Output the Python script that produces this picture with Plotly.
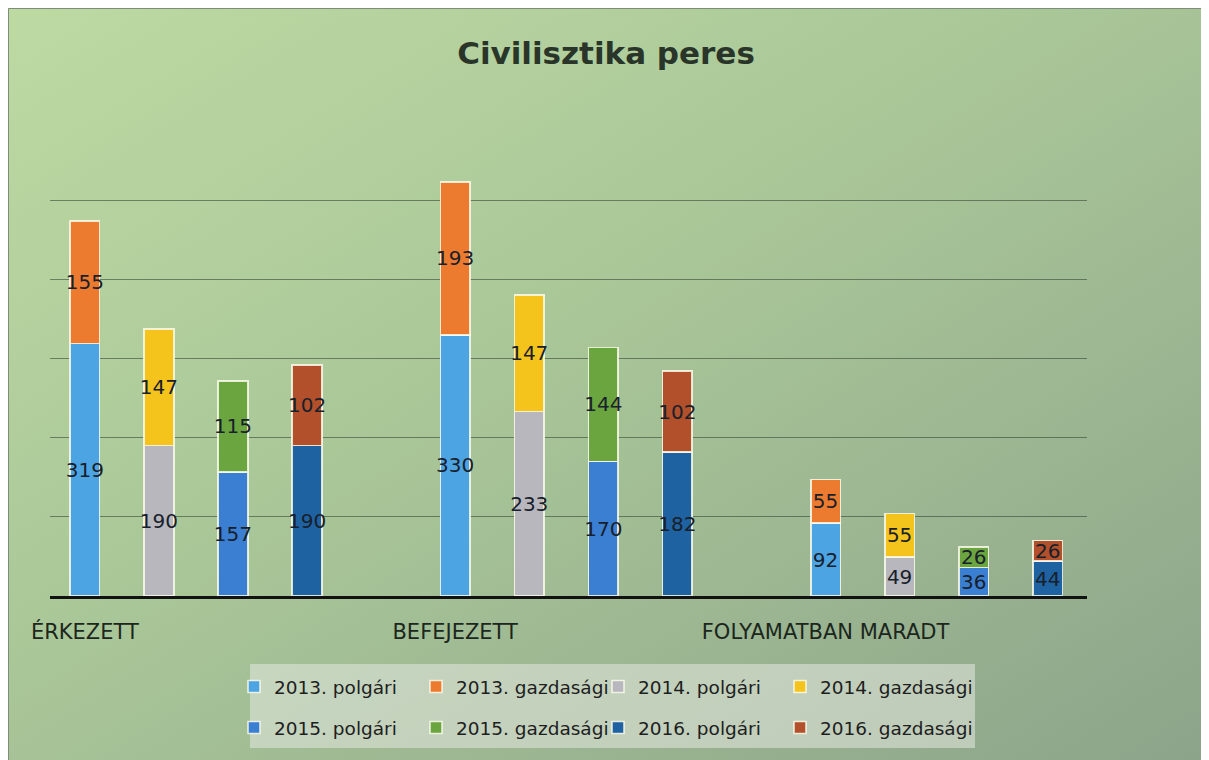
import base64
import plotly.graph_objects as go

# ---------------- data ----------------
categories = ["ÉRKEZETT", "BEFEJEZETT", "FOLYAMATBAN MARADT"]
years = ["2013", "2014", "2015", "2016"]

polgari_2013 = [319, 330, 92]
gazdasagi_2013 = [155, 193, 55]
polgari_2014 = [190, 233, 49]
gazdasagi_2014 = [147, 147, 55]
polgari_2015 = [157, 170, 36]
gazdasagi_2015 = [115, 144, 26]
polgari_2016 = [190, 182, 44]
gazdasagi_2016 = [102, 102, 26]

polgari = [polgari_2013, polgari_2014, polgari_2015, polgari_2016]
gazdasagi = [gazdasagi_2013, gazdasagi_2014, gazdasagi_2015, gazdasagi_2016]

polgari_colors = ["#4da4e3", "#b7b7bd", "#3b7fd2", "#1f62a1"]
gazdasagi_colors = ["#ed7b2f", "#f4c41c", "#6ba540", "#b1502a"]

FONT = "DejaVu Sans"
LABEL_COLOR = "#18202b"

# ---------------- layout geometry (figure px; page adds 8px body margin) ----------------
W, H = 1201, 752
L, R, T, B = 42, 122, 121, 164
PW, PH = W - L - R, H - T - B

slot = len(years) + 1  # one empty slot between category groups


def xpos(g, k):
    return g * slot + k


fig = go.Figure()

for k, yr in enumerate(years):
    xs = [xpos(g, k) for g in range(len(categories))]
    leg = "legend" if k < 2 else "legend2"
    last_in_row = (k % 2 == 1)
    for vals, col, kind in ((polgari[k], polgari_colors[k], "polgári"),
                            (gazdasagi[k], gazdasagi_colors[k], "gazdasági")):
        lw = 160 if (last_in_row and kind == "gazdasági") else 137
        fig.add_trace(go.Bar(
            x=xs, y=vals, width=0.4,
            name=f"{yr}. {kind}",
            legend=leg, legendwidth=lw,
            marker=dict(color=col, line=dict(color="rgba(250,250,235,0.85)", width=1.6)),
            text=[str(v) for v in vals],
            textposition="inside", insidetextanchor="middle",
            textangle=0, constraintext="none",
            textfont=dict(family=FONT, size=20, color=LABEL_COLOR),
            cliponaxis=False,
            hoverinfo="skip",
        ))

# background (gradient scan look) as svg image
svg = f'''<svg xmlns="http://www.w3.org/2000/svg" width="{W}" height="{H}" viewBox="0 0 {W} {H}" preserveAspectRatio="none">
<defs><linearGradient id="g" x1="0" y1="0" x2="1" y2="1">
<stop offset="0" stop-color="#bddaa3"/><stop offset="0.45" stop-color="#a9c698"/><stop offset="1" stop-color="#8ca48a"/>
</linearGradient></defs>
<rect width="{W}" height="{H}" fill="url(#g)"/>
<path d="M0.5,{H} V0.5 H{W}" fill="none" stroke="#7f8c7a" stroke-width="1"/>
</svg>'''
src = "data:image/svg+xml;base64," + base64.b64encode(svg.encode()).decode()


def px_x(v):
    return (v - L) / PW


def px_y(v):
    return (H - B - v) / PH


legend_common = dict(orientation="h", x=px_x(226), xanchor="left", yanchor="middle",
                     entrywidth=137, bgcolor="rgba(0,0,0,0)", borderwidth=0,
                     font=dict(family=FONT, size=18.5, color="#1e1e1e"), traceorder="normal")

fig.update_layout(
    width=W, height=H,
    margin=dict(l=L, r=R, t=T, b=B, pad=0),
    paper_bgcolor="#ffffff",
    plot_bgcolor="rgba(0,0,0,0)",
    barmode="stack",
    uniformtext=dict(minsize=20, mode="show"),
    font=dict(family=FONT, color="#1e1e1e"),
    title=dict(text="Civilisztika peres", x=598 / W, xanchor="center", xref="container",
               y=1 - 45 / H, yanchor="middle", yref="container",
               font=dict(family=FONT, size=31, color="#2a352a", weight="bold")),
    images=[dict(source=src, xref="paper", yref="paper",
                 x=-L / PW, y=1 + T / PH, sizex=W / PW, sizey=H / PH,
                 xanchor="left", yanchor="top", sizing="stretch", layer="below")],
    shapes=[dict(type="rect", xref="paper", yref="paper",
                 x0=px_x(242), x1=px_x(967), y0=px_y(740), y1=px_y(656),
                 fillcolor="rgba(228,232,224,0.55)", line=dict(width=0), layer="above")],
    legend=dict(y=px_y(679), **legend_common),
    legend2=dict(y=px_y(720), **legend_common),
    xaxis=dict(range=[-0.47, 13.53], tickmode="array",
               tickvals=[xpos(g, 0) for g in range(len(categories))],
               ticktext=categories, ticks="", showgrid=False, zeroline=False,
               showline=True, linecolor="#121212", linewidth=3,
               ticklabelstandoff=15,
               tickfont=dict(family=FONT, size=21, color="#1c261c")),
    yaxis=dict(range=[0, 590], tick0=0, dtick=100, showgrid=True,
               gridcolor="rgba(45,60,45,0.55)", gridwidth=1.3,
               showticklabels=False, zeroline=False, showline=False),
)

fig.write_html("out.html")
